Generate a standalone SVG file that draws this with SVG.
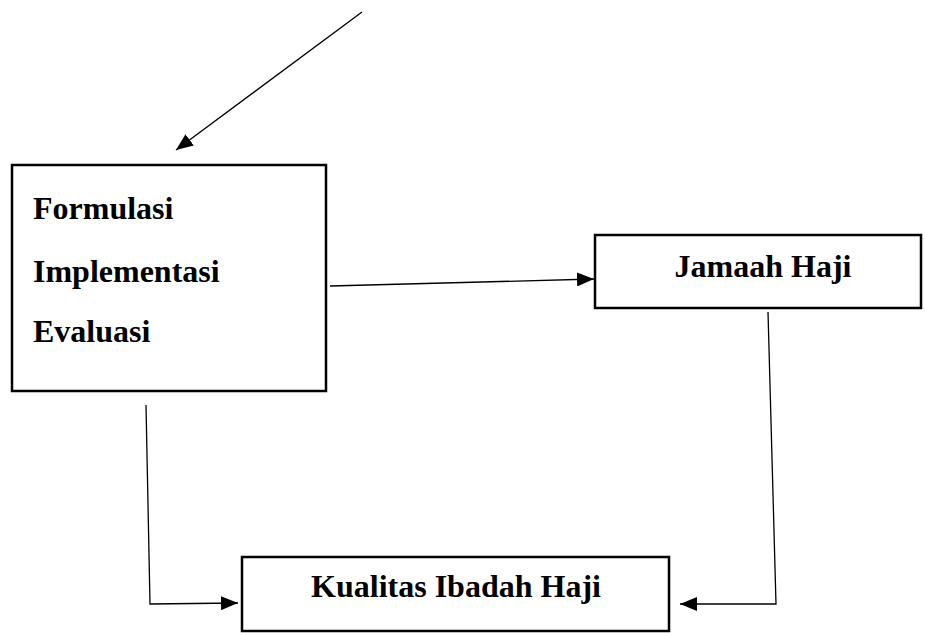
<svg xmlns="http://www.w3.org/2000/svg" width="925" height="633" viewBox="0 0 925 633">
  <style>
    .box { fill: #ffffff; stroke: #000000; stroke-width: 2.5; }
    .conn { fill: none; stroke: #000000; stroke-width: 1.3; }
    .lbl { font-family: "Liberation Serif", "Times New Roman", serif; font-weight: bold; font-size: 32px; fill: #000000; }
  </style>
  <defs>
    <marker id="arrow" markerUnits="userSpaceOnUse" markerWidth="18" markerHeight="14" refX="17" refY="7" orient="auto">
      <path d="M0,0 L17,7 L0,14 Z" fill="#000000"/>
    </marker>
  </defs>
  <rect width="925" height="633" fill="#ffffff"/>

  <g id="connectors">
    <line class="conn" x1="362" y1="12" x2="176" y2="150" marker-end="url(#arrow)"/>
    <line class="conn" x1="330" y1="286" x2="594" y2="279" marker-end="url(#arrow)"/>
    <polyline class="conn" points="146,405 150,604 238,603" marker-end="url(#arrow)"/>
    <polyline class="conn" points="768,312 776,604 680,604" marker-end="url(#arrow)"/>
  </g>

  <g id="node-strategi">
    <rect class="box" x="12" y="165" width="314" height="226"/>
    <text class="lbl" x="33" y="219">Formulasi</text>
    <text class="lbl" x="33" y="282">Implementasi</text>
    <text class="lbl" x="33" y="342">Evaluasi</text>
  </g>

  <g id="node-jamaah">
    <rect class="box" x="595" y="235" width="326" height="73"/>
    <text class="lbl" x="763" y="277" text-anchor="middle">Jamaah Haji</text>
  </g>

  <g id="node-kualitas">
    <rect class="box" x="242" y="557" width="427" height="74"/>
    <text class="lbl" x="456" y="597" text-anchor="middle">Kualitas Ibadah Haji</text>
  </g>
</svg>
